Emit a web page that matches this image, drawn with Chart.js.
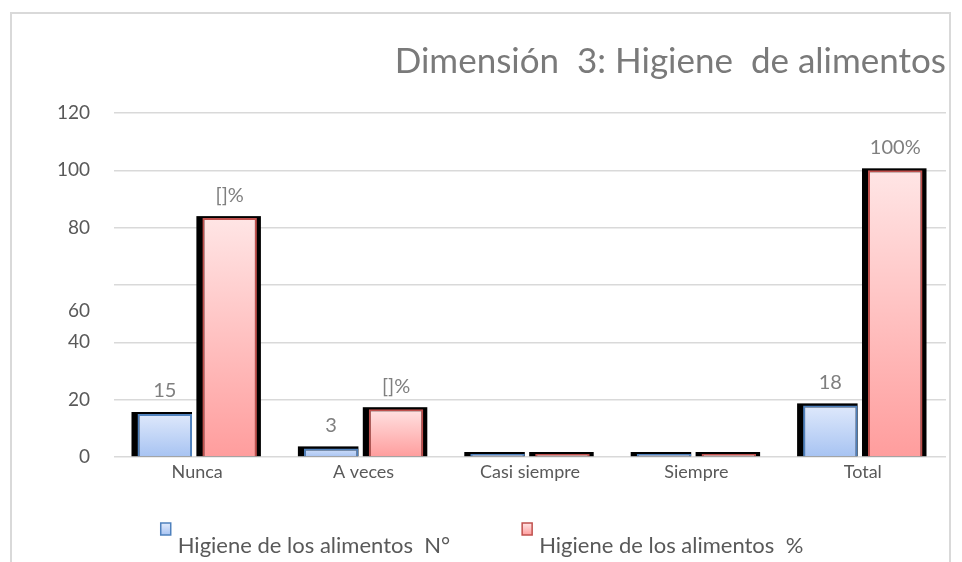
<!DOCTYPE html>
<html>
<head>
<meta charset="utf-8">
<script src="https://cdn.jsdelivr.net/npm/chart.js"></script>
<style>
  html, body { margin: 0; padding: 0; background: #fff; }
  #wrap { position: relative; width: 962px; height: 562px; }
  #grafBarras { display: block; }
  #marco { position: absolute; left: 10px; top: 12px; width: 937px; height: 560px;
           border: 2px solid #d9d9d9; border-bottom: none; pointer-events: none; }
</style>
</head>
<body>
<div id="wrap">
  <canvas id="grafBarras" width="962" height="562"></canvas>
  <div id="marco"></div>
</div>
<script>
// dados do grafico
const categorias = ['Nunca', 'A veces', 'Casi siempre', 'Siempre', 'Total']
const vetNum = [15, 3, 0, 0, 18]
const vetPorc = [83.33, 16.67, 0, 0, 100]
const etiqNum = ['15', '3', '', '', '18']
const etiqPorc = ['[]%', '[]%', '', '', '100%']
const nomesSeries = ['Higiene de los alimentos  N°', 'Higiene de los alimentos  %']
const titulo = 'Dimensión  3: Higiene  de alimentos'

const fonte = 'Lato, "Open Sans", sans-serif'
const coresTopo = ['#e2ebfc', '#ffe6e6']
const coresBase = ['#a7c3f2', '#ff9d9d']
const coresBorda = ['#4f81bd', '#c0504d']

function degrade(i) {
    return (c) => {
        const chart = c.chart
        if (!chart.chartArea || c.type !== 'data') return coresBase[i]
        const y = chart.scales.y
        const topo = y.getPixelForValue(c.raw) - 3
        const base = y.getPixelForValue(0)
        const g = chart.ctx.createLinearGradient(0, topo, 0, base)
        g.addColorStop(0, coresTopo[i])
        g.addColorStop(1, coresBase[i])
        return g
    }
}

// sombra preta atras das barras
const sombraBarras = {
    id: 'sombraBarras',
    beforeDatasetsDraw(chart) {
        const ctx = chart.ctx
        ctx.save()
        ctx.fillStyle = '#000'
        chart.data.datasets.forEach((ds, i) => {
            chart.getDatasetMeta(i).data.forEach(bar => {
                const esq = bar.x - bar.width / 2
                const extra = i === 1 ? 4 : 0
                ctx.fillRect(esq - 6, bar.y - 2, bar.width + 6 + extra, bar.base - bar.y + 2)
            })
        })
        ctx.restore()
    }
}

// rotulos, label do 60 deslocado e legenda
const extras = {
    id: 'extras',
    afterDatasetsDraw(chart) {
        const ctx = chart.ctx
        ctx.save()
        ctx.font = '20px ' + fonte
        ctx.fillStyle = '#7f7f7f'
        ctx.textAlign = 'center'
        ctx.textBaseline = 'middle'
        const etiquetas = [etiqNum, etiqPorc]
        chart.data.datasets.forEach((ds, i) => {
            chart.getDatasetMeta(i).data.forEach((bar, j) => {
                const txt = etiquetas[i][j]
                if (txt) ctx.fillText(txt, bar.x, bar.y - 23)
            })
        })
        ctx.restore()
    },
    afterDraw(chart) {
        const ctx = chart.ctx
        const y = chart.scales.y
        ctx.save()
        ctx.font = '19px ' + fonte
        ctx.fillStyle = '#595959'
        ctx.textAlign = 'right'
        ctx.textBaseline = 'middle'
        ctx.fillText('60', chart.chartArea.left - 24, y.getPixelForValue(60) + 26)

        // legenda
        ctx.font = '22px ' + fonte
        ctx.textAlign = 'left'
        const gap = 72
        const larg = nomesSeries.map(t => 17 + ctx.measureText(t).width)
        const total = larg[0] + gap + larg[1]
        let x = 482 - total / 2
        nomesSeries.forEach((nome, i) => {
            const g = ctx.createLinearGradient(0, 523, 0, 535)
            g.addColorStop(0, coresTopo[i])
            g.addColorStop(1, coresBase[i])
            ctx.fillStyle = g
            ctx.fillRect(x, 523, 10, 12)
            ctx.strokeStyle = coresBorda[i]
            ctx.lineWidth = 1.5
            ctx.strokeRect(x, 523, 10, 12)
            ctx.fillStyle = '#595959'
            ctx.fillText(nome, x + 17, 546)
            x += larg[i] + gap
        })
        ctx.restore()
    }
}

const grafBarras = document.getElementById('grafBarras')

new Chart(grafBarras, {
    type: 'bar',
    data: {
        labels: categorias,
        datasets: [{
            label: nomesSeries[0],
            data: vetNum,
            backgroundColor: degrade(0),
            borderColor: coresBorda[0],
            borderWidth: 2,
            minBarLength: 3
        }, {
            label: nomesSeries[1],
            data: vetPorc,
            backgroundColor: degrade(1),
            borderColor: coresBorda[1],
            borderWidth: 2,
            minBarLength: 3
        }]
    },
    options: {
        responsive: false,
        animation: false,
        categoryPercentage: 0.78,
        barPercentage: 0.84,
        layout: { padding: { left: 16, right: 16, top: 0, bottom: 0 } },
        scales: {
            x: {
                grid: { display: false, drawTicks: false },
                border: { display: false },
                ticks: { color: '#595959', font: { family: fonte, size: 18 }, padding: 4 },
                afterFit: (s) => { s.height = 105 }
            },
            y: {
                min: 0,
                max: 120,
                ticks: {
                    stepSize: 20,
                    padding: 24,
                    color: (c) => c.tick && c.tick.value === 60 ? 'rgba(0,0,0,0)' : '#595959',
                    font: { family: fonte, size: 19 }
                },
                grid: { color: '#d9d9d9', lineWidth: 1.5, drawTicks: false },
                border: { display: false },
                afterFit: (s) => { s.width = 98 }
            }
        },
        plugins: {
            legend: { display: false },
            tooltip: { enabled: false },
            title: {
                display: true,
                text: titulo,
                align: 'end',
                color: '#7a7a7a',
                font: { family: fonte, size: 35, weight: 'normal' },
                padding: { top: 41, bottom: 30 }
            }
        }
    },
    plugins: [sombraBarras, extras]
})
</script>
</body>
</html>
